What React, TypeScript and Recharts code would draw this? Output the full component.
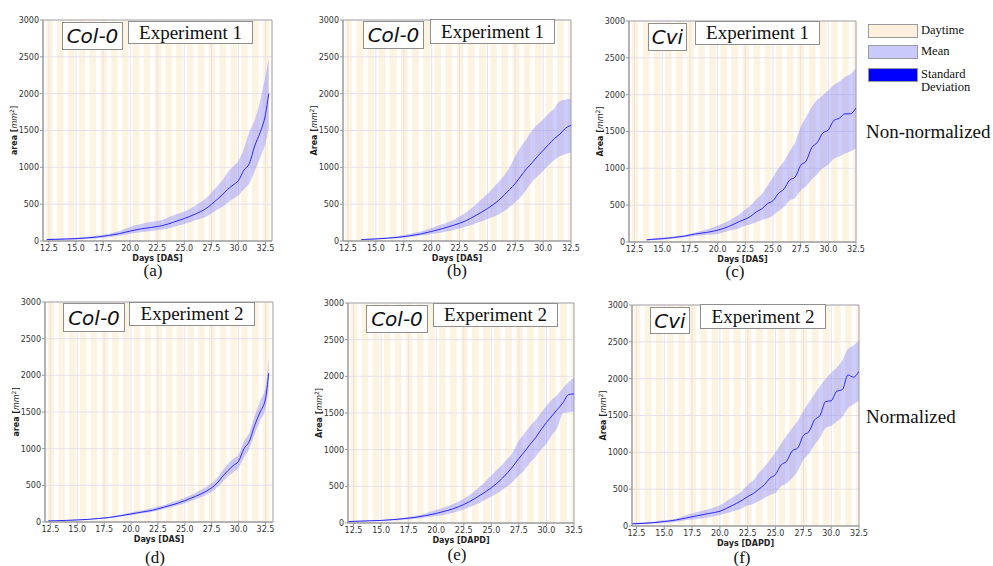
import { ComposedChart, Area, Line, XAxis, YAxis, CartesianGrid, ReferenceArea, Label } from "recharts";

const dayTicks = [12.5, 15, 17.5, 20, 22.5, 25, 27.5, 30, 32.5];
const areaTicks = [0, 500, 1000, 1500, 2000, 2500, 3000];
const studyDays = [11, 12, 13, 14, 15, 16, 17, 18, 19, 20, 21, 22, 23, 24, 25, 26, 27, 28, 29, 30, 31, 32, 33];
const lightsOn = 0.25;
const lightsOff = 0.85;

// (a) Col-0, experiment 1, non-normalized
const daysA = [12.3, 13, 14, 15, 16, 17, 18, 19, 20, 21, 22, 23, 24, 25, 26, 27, 28, 28.5, 29, 29.5, 30, 30.5, 31, 31.5, 32, 32.5, 32.8];
const meanA = [20, 22, 27, 32, 42, 55, 75, 100, 135, 165, 185, 210, 255, 305, 365, 440, 560, 625, 700, 760, 820, 960, 1050, 1290, 1470, 1720, 2000];
const upperA = [30, 33, 38, 45, 58, 75, 100, 135, 190, 230, 260, 290, 350, 400, 480, 580, 740, 820, 930, 1010, 1090, 1250, 1480, 1640, 1900, 2250, 2480];
const lowerA = [10, 12, 17, 22, 28, 38, 52, 72, 100, 120, 135, 155, 190, 230, 280, 330, 420, 460, 520, 570, 620, 700, 780, 950, 1130, 1330, 1540];

// (b) Col-0, experiment 1
const daysB = [13.7, 14, 15, 16, 17, 18, 19, 20, 21, 22, 23, 24, 25, 26, 27, 27.5, 28, 28.5, 29, 29.5, 30, 30.5, 31, 31.5, 32, 32.5];
const meanB = [20, 22, 28, 38, 50, 70, 95, 130, 170, 215, 270, 350, 440, 550, 700, 780, 880, 980, 1060, 1150, 1230, 1310, 1390, 1450, 1530, 1570];
const upperB = [25, 28, 35, 48, 68, 95, 130, 175, 230, 290, 380, 500, 640, 800, 1000, 1150, 1280, 1380, 1500, 1580, 1650, 1730, 1800, 1900, 1920, 1930];
const lowerB = [15, 16, 22, 30, 38, 50, 70, 95, 120, 150, 190, 240, 300, 360, 460, 530, 600, 700, 800, 880, 950, 1030, 1100, 1150, 1180, 1200];

// (c) Cvi, experiment 1
const daysC = [13.6, 14, 15, 16, 17, 18, 19, 20, 21, 22, 22.5, 23, 23.5, 24, 24.5, 25, 25.5, 26, 26.5, 27, 27.5, 28, 28.5, 29, 29.5, 30, 30.5, 31, 31.5, 32, 32.5];
const meanC = [30, 35, 45, 60, 80, 110, 130, 160, 210, 280, 310, 350, 410, 450, 520, 560, 660, 720, 840, 880, 1040, 1100, 1280, 1350, 1480, 1520, 1650, 1680, 1740, 1740, 1820];
const upperC = [40, 45, 60, 75, 95, 130, 170, 220, 290, 380, 440, 500, 580, 650, 760, 880, 1000, 1100, 1230, 1350, 1560, 1700, 1830, 1930, 1990, 2060, 2130, 2180, 2240, 2280, 2355];
const lowerC = [20, 24, 32, 45, 60, 80, 95, 110, 150, 190, 220, 240, 270, 300, 320, 360, 420, 480, 560, 600, 700, 760, 850, 920, 1000, 1050, 1130, 1160, 1200, 1230, 1270];

// (d) Col-0, experiment 2, normalized
const daysD = [12.3, 13, 14, 15, 16, 17, 18, 19, 20, 21, 22, 23, 24, 25, 26, 27, 28, 28.5, 29, 29.5, 30, 30.5, 31, 31.5, 32, 32.5, 32.8];
const meanD = [15, 17, 22, 28, 36, 48, 62, 85, 110, 135, 160, 200, 240, 290, 350, 420, 530, 620, 700, 770, 830, 1000, 1100, 1320, 1500, 1680, 2030];
const upperD = [20, 23, 28, 33, 42, 55, 72, 100, 130, 160, 190, 230, 280, 330, 400, 480, 600, 700, 790, 860, 920, 1100, 1220, 1450, 1650, 1840, 2240];
const lowerD = [10, 12, 17, 23, 30, 40, 52, 72, 92, 115, 140, 175, 210, 255, 310, 370, 470, 550, 620, 680, 740, 880, 1000, 1200, 1380, 1550, 1830];

// (e) Col-0, experiment 2
const daysE = [12, 13, 14, 15, 16, 17, 18, 19, 20, 21, 22, 23, 24, 25, 26, 27, 27.5, 28, 28.5, 29, 29.5, 30, 30.5, 31, 31.5, 32, 32.5];
const meanE = [20, 25, 30, 35, 45, 58, 75, 100, 130, 170, 220, 290, 380, 480, 610, 780, 880, 970, 1070, 1160, 1270, 1370, 1460, 1550, 1640, 1750, 1760];
const upperE = [25, 30, 36, 42, 55, 72, 95, 130, 180, 230, 290, 380, 500, 650, 800, 980, 1120, 1220, 1320, 1400, 1500, 1600, 1680, 1750, 1840, 1920, 1980];
const lowerE = [15, 20, 24, 28, 35, 45, 55, 75, 95, 120, 160, 215, 280, 360, 450, 570, 650, 720, 820, 900, 1000, 1080, 1200, 1300, 1500, 1510, 1520];

// (f) Cvi, experiment 2
const daysF = [12.1, 13, 14, 15, 16, 17, 18, 19, 20, 21, 22, 22.5, 23, 23.5, 24, 24.5, 25, 25.5, 26, 26.5, 27, 27.5, 28, 28.5, 29, 29.5, 30, 30.5, 31, 31.5, 32, 32.5];
const meanF = [30, 35, 45, 60, 80, 110, 140, 170, 200, 270, 350, 400, 440, 500, 560, 650, 700, 830, 880, 1020, 1060, 1230, 1280, 1440, 1500, 1690, 1700, 1830, 1850, 2050, 2020, 2100];
const upperF = [40, 50, 62, 80, 100, 150, 190, 230, 280, 380, 480, 560, 620, 720, 800, 900, 1000, 1120, 1230, 1330, 1430, 1560, 1680, 1790, 1900, 2000, 2080, 2150, 2250, 2400, 2450, 2520];
const lowerF = [20, 25, 32, 45, 55, 80, 95, 120, 150, 190, 240, 280, 300, 340, 380, 420, 450, 540, 580, 650, 750, 900, 980, 1100, 1200, 1330, 1360, 1420, 1480, 1600, 1650, 1700];

const SANS = "DejaVu Sans, sans-serif";
const SERIF = "Liberation Serif, Times New Roman, serif";

const panels = [
  { id: "a", left: 43, top: 20, w: 229, h: 221, domain: [11.95, 33.1], days: daysA, mean: meanA, upper: upperA, lower: lowerA, yWord: "area", xTitle: "Days [DAS]", geno: "Col-0", exp: "Experiment 1", genoBox: [62, 22, 61, 28], expBox: [128, 21, 125, 23], letterPos: [153, 271] },
  { id: "b", left: 343, top: 20, w: 228, h: 221, domain: [12.05, 32.5], days: daysB, mean: meanB, upper: upperB, lower: lowerB, yWord: "Area", xTitle: "Days [DAS]", geno: "Col-0", exp: "Experiment 1", genoBox: [363, 21, 61, 28], expBox: [430, 19, 125, 25], letterPos: [457, 271] },
  { id: "c", left: 629, top: 21, w: 227, h: 221, domain: [12.0, 32.5], days: daysC, mean: meanC, upper: upperC, lower: lowerC, yWord: "Area", xTitle: "Days [DAS]", geno: "Cvi", exp: "Experiment 1", genoBox: [648, 23, 39, 28], expBox: [695, 21, 125, 24], letterPos: [735, 272] },
  { id: "d", left: 45, top: 302, w: 228, h: 220, domain: [12.0, 33.2], days: daysD, mean: meanD, upper: upperD, lower: lowerD, yWord: "area", xTitle: "Days [DAS]", geno: "Col-0", exp: "Experiment 2", genoBox: [63, 303, 62, 29], expBox: [129, 302, 126, 24], letterPos: [155, 558] },
  { id: "e", left: 348, top: 303, w: 226, h: 220, domain: [12.0, 32.5], days: daysE, mean: meanE, upper: upperE, lower: lowerE, yWord: "Area", xTitle: "Days [DAPD]", geno: "Col-0", exp: "Experiment 2", genoBox: [366, 305, 62, 28], expBox: [433, 303, 125, 24], letterPos: [457, 555] },
  { id: "f", left: 632, top: 305, w: 227, h: 221, domain: [12.1, 32.5], days: daysF, mean: meanF, upper: upperF, lower: lowerF, yWord: "Area", xTitle: "Days [DAPD]", geno: "Cvi", exp: "Experiment 2", genoBox: [650, 307, 40, 27], expBox: [700, 304, 126, 25], letterPos: [742, 558] },
];

const AXIS_W = 45;
const PAD = 5;
const RIGHT = 14;
const XAXIS_H = 20;
const TICK_FONT = 8;

function YTitle(props: any) {
  const { viewBox, word } = props;
  const x = viewBox.x + 16;
  const y = viewBox.y + viewBox.height / 2;
  return (
    <text x={x} y={y} transform={`rotate(-90, ${x}, ${y})`} textAnchor="middle" dominantBaseline="central" fontFamily={SANS} fontSize={8} fill="#222">
      <tspan fontWeight="bold">{word} [</tspan>
      <tspan fontStyle="italic">mm</tspan>
      <tspan dy={-3} fontSize={6}>2</tspan>
      <tspan dy={3}>]</tspan>
    </text>
  );
}

function XTitle(props: any) {
  const { viewBox, text } = props;
  return (
    <text x={viewBox.x + viewBox.width / 2} y={viewBox.y + 17} textAnchor="middle" dominantBaseline="central" fontFamily={SANS} fontSize={8} fontWeight="bold" fill="#222">
      {text}
    </text>
  );
}

function Panel({ p }: { p: any }) {
  const data = p.days.map((d: number, i: number) => ({ day: d, mean: p.mean[i], range: [p.lower[i], p.upper[i]] }));
  const width = p.w + AXIS_W + RIGHT;
  const height = p.h + PAD * 2 + XAXIS_H;
  const tickStyle = { fontFamily: SANS, fontSize: TICK_FONT, fill: "#333" };
  return (
    <div style={{ position: "absolute", left: p.left - AXIS_W, top: p.top - PAD }}>
      <ComposedChart width={width} height={height} data={data} margin={{ top: PAD, right: RIGHT, left: 0, bottom: PAD }}>
        <CartesianGrid stroke="#dadaf2" strokeWidth={0.8} />
        {studyDays.map((d) => (
          <ReferenceArea key={d} x1={d + lightsOn} x2={d + lightsOff} y1={0} y2={3000} fill="#fbe3b8" fillOpacity={0.42} stroke="none" ifOverflow="hidden" />
        ))}
        <XAxis
          type="number"
          dataKey="day"
          domain={p.domain}
          ticks={dayTicks}
          interval={0}
          tickFormatter={(v: number) => v.toFixed(1)}
          height={XAXIS_H}
          tickSize={3}
          tickMargin={1}
          stroke="#999"
          tick={tickStyle}
          allowDataOverflow
        >
          <Label content={(lp: any) => <XTitle {...lp} text={p.xTitle} />} />
        </XAxis>
        <YAxis
          type="number"
          domain={[0, 3000]}
          ticks={areaTicks}
          interval={0}
          width={AXIS_W}
          tickSize={3}
          tickMargin={1}
          stroke="#999"
          tick={tickStyle}
          allowDataOverflow
        >
          <Label content={(lp: any) => <YTitle {...lp} word={p.yWord} />} />
        </YAxis>
        <Area type="monotone" dataKey="range" stroke="none" fill="#8080ff" fillOpacity={0.4} isAnimationActive={false} />
        <Line type="monotone" dataKey="mean" stroke="#2a2aff" strokeWidth={1} dot={false} isAnimationActive={false} />
        <ReferenceArea x1={p.domain[0]} x2={p.domain[1]} y1={0} y2={3000} fill="none" stroke="#a8a8a8" strokeWidth={1} ifOverflow="extendDomain" />
      </ComposedChart>
    </div>
  );
}

function Box({ rect, children, style }: { rect: number[]; children: any; style: any }) {
  const [x, y, w, h] = rect;
  return (
    <div
      style={{
        position: "absolute",
        left: x,
        top: y,
        width: w,
        height: h,
        boxSizing: "border-box",
        border: "1px solid #8f8f8f",
        background: "#fff",
        display: "flex",
        alignItems: "center",
        justifyContent: "center",
        color: "#111",
        whiteSpace: "nowrap",
        ...style,
      }}
    >
      {children}
    </div>
  );
}

const legendItems = [
  { label: ["Daytime"], fill: "#fdf0dc", top: 24 },
  { label: ["Mean"], fill: "#c9c9fb", top: 45 },
  { label: ["Standard", "Deviation"], fill: "#0000ff", top: 68 },
];

export default function App() {
  return (
    <div style={{ position: "absolute", left: 0, top: 0, width: 993, height: 566, background: "#fff", overflow: "hidden" }}>
      {panels.map((p) => (
        <Panel key={p.id} p={p} />
      ))}
      {panels.map((p) => (
        <div key={"t" + p.id}>
          <Box rect={p.genoBox} style={{ fontFamily: SANS, fontStyle: "italic", fontSize: 20 }}>
            {p.geno}
          </Box>
          <Box rect={p.expBox} style={{ fontFamily: SERIF, fontSize: 19 }}>
            {p.exp}
          </Box>
          <div
            style={{
              position: "absolute",
              left: p.letterPos[0] - 20,
              top: p.letterPos[1] - 10,
              width: 40,
              height: 20,
              lineHeight: "20px",
              textAlign: "center",
              fontFamily: SERIF,
              fontSize: 17,
              color: "#111",
            }}
          >
            ({p.id})
          </div>
        </div>
      ))}
      {legendItems.map((it) => (
        <div key={it.label[0]}>
          <div
            style={{
              position: "absolute",
              left: 868,
              top: it.top,
              width: 50,
              height: 14,
              boxSizing: "border-box",
              border: "1px solid #9a9a9a",
              background: it.fill,
            }}
          />
          {it.label.map((l, i) => (
            <div
              key={l}
              style={{
                position: "absolute",
                left: 921,
                top: it.top + i * 13,
                height: 13,
                fontFamily: SERIF,
                fontSize: 12.5,
                lineHeight: "13px",
                color: "#111",
                whiteSpace: "nowrap",
              }}
            >
              {l}
            </div>
          ))}
        </div>
      ))}
      <div style={{ position: "absolute", left: 866, top: 120, fontFamily: SERIF, fontSize: 19, lineHeight: "24px", color: "#111", whiteSpace: "nowrap" }}>
        Non-normalized
      </div>
      <div style={{ position: "absolute", left: 866, top: 405, fontFamily: SERIF, fontSize: 19, lineHeight: "24px", color: "#111", whiteSpace: "nowrap" }}>
        Normalized
      </div>
    </div>
  );
}
